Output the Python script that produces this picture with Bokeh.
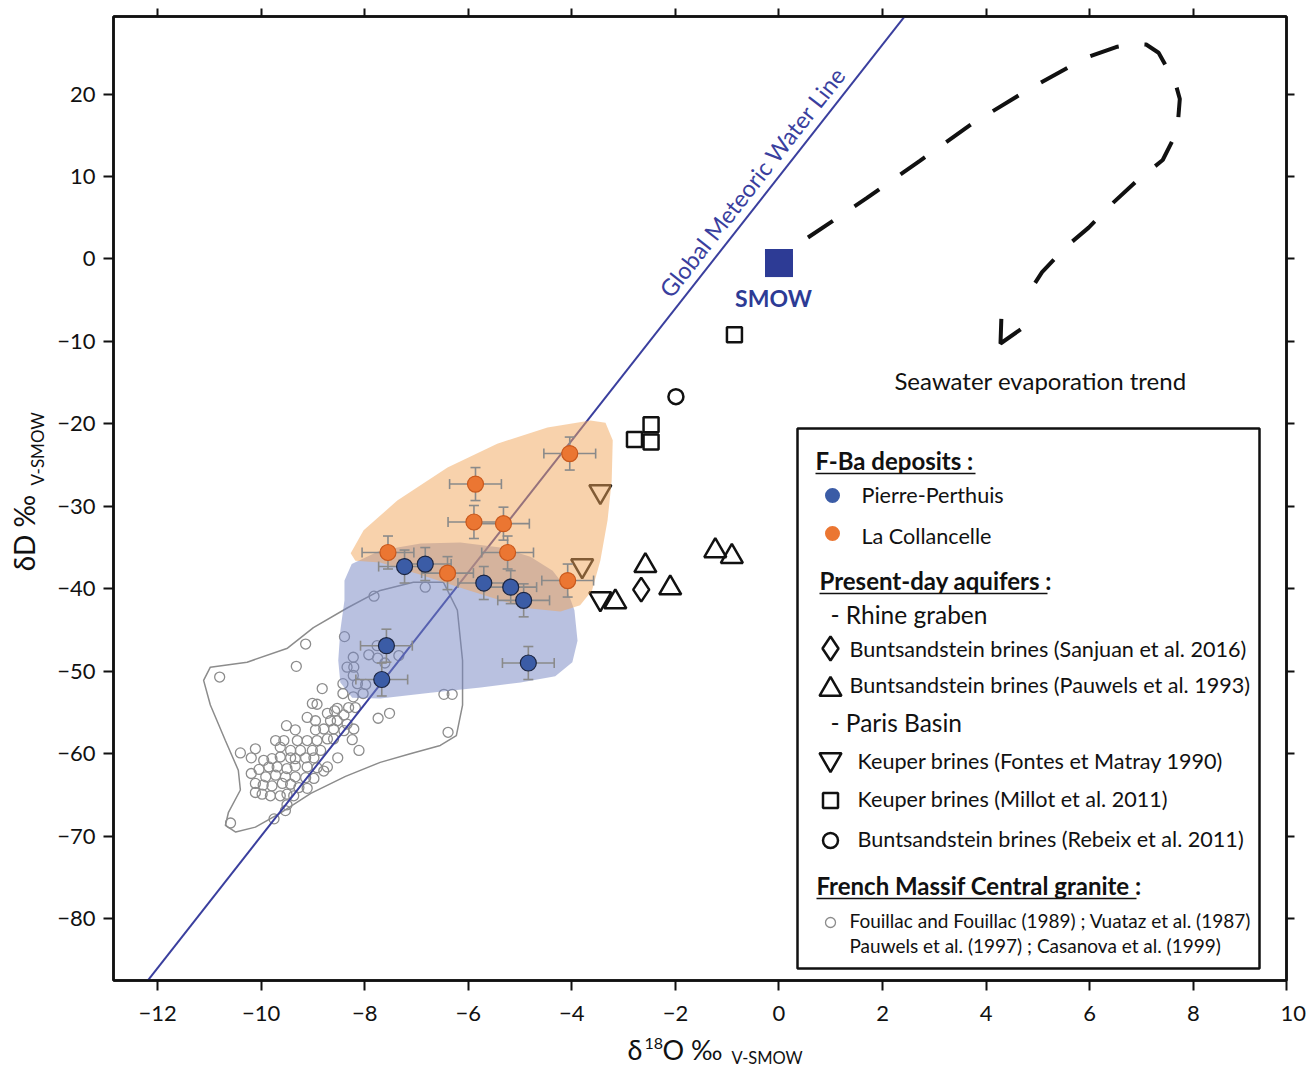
from bokeh.plotting import figure
from bokeh.models import Range1d, LinearAxis, FixedTicker, Label, Arrow, OpenHead
from bokeh.layouts import column, row
from bokeh.embed import file_html
from bokeh.resources import INLINE
import math

# ---------------- data ----------------
x_ticks = [-12, -10, -8, -6, -4, -2, 0, 2, 4, 6, 8]
x_tick_labels = ["\u221212", "\u221210", "\u22128", "\u22126", "\u22124", "\u22122", "0", "2", "4", "6", "8"]
x_end_label = "10"
y_ticks = [-80, -70, -60, -50, -40, -30, -20, -10, 0, 10, 20]
y_tick_labels = ["\u221280", "\u221270", "\u221260", "\u221250", "\u221240", "\u221230", "\u221220", "\u221210", "0", "10", "20"]

# F-Ba deposits
pp_d18o = [-7.23, -6.83, -5.70, -5.18, -4.93, -4.84, -7.58, -7.67]
pp_dD = [-37.3, -37.0, -39.3, -39.8, -41.4, -49.0, -46.9, -51.0]
pp_err_d18o = [0.5, 0.5, 0.5, 0.5, 0.5, 0.5, 0.5, 0.5]
pp_err_dD = [2.0, 2.0, 2.0, 2.0, 2.0, 2.0, 2.0, 2.0]

lc_d18o = [-4.04, -5.86, -5.89, -5.32, -5.24, -7.55, -6.40, -4.08]
lc_dD = [-23.6, -27.3, -31.9, -32.1, -35.6, -35.6, -38.1, -39.0]
lc_err_d18o = [0.5, 0.5, 0.5, 0.5, 0.5, 0.5, 0.5, 0.5]
lc_err_dD = [2.0, 2.0, 2.0, 2.0, 2.0, 2.0, 2.0, 2.0]

# fields (envelopes) of the two deposits
pp_field_d18o = [-8.39, -8.25, -7.70, -6.92, -6.15, -5.38, -4.80, -4.37, -4.10, -3.95, -3.89, -3.99,
                 -4.32, -4.99, -5.76, -6.73, -7.70, -8.24, -8.47, -8.51, -8.47, -8.39]
pp_field_dD = [-39.0, -37.0, -35.35, -34.5, -34.4, -35.0, -36.1, -37.8, -40.0, -42.6, -46.3, -48.9,
               -50.6, -51.35, -51.96, -52.6, -53.3, -53.2, -51.35, -48.7, -45.05, -41.4]
lc_field_d18o = [-8.27, -8.02, -7.37, -6.40, -5.44, -4.47, -3.64, -3.35, -3.21, -3.23, -3.31, -3.45,
                 -3.61, -3.84, -4.22, -4.80, -5.38, -6.09, -6.92, -7.70, -8.18]
lc_field_dD = [-35.7, -32.9, -29.3, -25.3, -22.4, -20.45, -19.6, -19.85, -22.0, -26.9, -31.7, -36.6,
               -40.2, -42.0, -42.75, -42.4, -41.4, -40.0, -38.3, -36.8, -36.6]

# present-day aquifers
sanjuan_d18o = [-2.66]
sanjuan_dD = [-40.1]
pauwels93_d18o = [-3.16, -2.58, -2.10, -1.23, -0.91]
pauwels93_dD = [-41.6, -37.2, -39.9, -35.4, -36.1]
fontes_d18o = [-3.45, -3.80, -3.45]
fontes_dD = [-28.2, -37.2, -41.2]
millot_d18o = [-0.86, -2.79, -2.47, -2.47]
millot_dD = [-9.2, -21.9, -20.1, -22.2]
rebeix_d18o = [-1.99]
rebeix_dD = [-16.7]

smow_d18o = [0.0]
smow_dD = [-0.5]

# French Massif Central granite waters
granite_d18o = [-10.80, -9.32, -9.14, -7.82, -6.83, -8.39, -7.76, -7.92, -8.22, -8.34, -8.21, -7.75,
                -7.61, -7.34, -8.22, -8.42, -8.14, -7.98, -8.82, -8.42, -8.22, -8.03, -6.47, -6.31,
                -9.01, -8.92, -8.31, -8.18, -7.52, -7.74, -6.39, -8.72, -8.58, -9.11, -8.95, -8.66,
                -8.53, -8.40, -8.34, -8.21, -9.51, -9.34, -8.95, -8.79, -8.60, -8.40, -9.30, -9.11,
                -8.92, -8.72, -8.60, -8.24, -9.72, -9.56, -10.11, -10.40, -10.19, -8.11, -8.52, -9.63,
                -9.43, -9.24, -9.01, -8.85, -9.95, -9.79, -9.63, -9.43, -9.34, -9.14, -8.98, -10.04,
                -9.85, -9.69, -9.50, -9.34, -9.11, -8.92, -8.72, -8.79, -10.19, -9.91, -9.72, -9.53,
                -9.34, -9.14, -8.98, -10.11, -9.96, -9.79, -9.59, -9.43, -9.27, -9.11, -10.11, -9.98,
                -9.82, -9.63, -9.50, -9.37, -9.50, -9.53, -9.75, -10.59, -8.53]
granite_dD = [-50.7, -49.4, -46.7, -40.9, -39.8, -45.8, -46.9, -48.0, -48.3, -49.5, -49.5, -48.4,
              -49.0, -48.1, -50.5, -51.5, -51.5, -51.6, -52.1, -52.7, -53.1, -52.7, -52.8, -52.8,
              -53.9, -54.0, -54.4, -54.4, -55.1, -55.7, -57.4, -55.1, -54.8, -55.6, -56.0, -56.0,
              -56.0, -55.3, -56.4, -57.0, -56.6, -57.1, -57.1, -57.0, -57.0, -57.2, -58.4, -58.4,
              -58.4, -58.2, -58.2, -58.3, -58.4, -58.4, -59.4, -59.9, -60.5, -59.6, -60.5, -59.2,
              -59.6, -59.6, -59.6, -59.6, -60.8, -60.6, -60.4, -60.5, -60.6, -60.5, -60.5, -61.9,
              -61.6, -61.6, -61.8, -61.5, -61.6, -61.7, -61.6, -62.1, -62.4, -62.8, -62.6, -62.8,
              -62.8, -62.9, -63.0, -63.6, -63.8, -63.9, -63.6, -63.7, -64.1, -64.2, -64.7, -64.9,
              -65.1, -65.1, -64.9, -65.1, -66.2, -66.9, -67.9, -68.4, -54.5]
granite_env_d18o = [-6.48, -6.21, -6.11, -6.11, -6.23, -6.54, -7.12, -7.70, -8.37, -9.04, -9.63, -10.11,
                    -10.49, -10.69, -10.63, -10.40, -10.44, -10.69, -10.98, -11.11, -10.98, -10.27,
                    -9.49, -8.99, -8.33, -7.70, -7.06, -6.48]
granite_env_dD = [-39.2, -42.6, -48.7, -54.1, -57.8, -59.0, -60.0, -61.05, -62.75, -64.8, -67.2, -68.9,
                  -69.5, -68.7, -67.1, -64.4, -62.0, -58.4, -54.1, -51.1, -49.5, -48.9,
                  -47.2, -44.7, -42.3, -40.2, -39.2, -39.2]

# Global Meteoric Water Line end points (dD = 8 d18O + 10)
gmwl_d18o = [-13.0, 3.0]
gmwl_dD = [-94.0, 34.0]

# seawater evaporation trend path
trend_d18o = [0.56, 1.70, 2.72, 3.73, 4.83, 5.93, 6.51, 6.85, 7.09, 7.33, 7.50, 7.66, 7.74, 7.69, 7.41,
              6.88, 6.45, 5.98, 5.53, 5.08, 4.76]
trend_dD = [2.6, 7.4, 11.9, 16.4, 20.6, 24.4, 25.7, 26.1, 26.0, 25.0, 23.1, 21.2, 19.4, 15.5, 12.0,
            9.3, 6.8, 3.8, 1.4, -1.6, -4.7]

# ---------------- layout ----------------
X0, X1 = -12.85, 9.80
Y0, Y1 = -87.5, 29.4
LW = 48                      # left strip (y-axis title)
FW, FH = 1173, 964
BL, BT, BR, BB = 113 - LW, 16, 20, 52
W = BL + FW + BR
H = BT + FH + BB
TOTAL_W = LW + W
BOT_H = 1069 - H
FL_PAGE, FT_PAGE = LW + BL, BT
FONT = "Lato"
INK = "#111111"


def X(px):
    return X0 + (px - FL_PAGE) * (X1 - X0) / FW


def Y(py):
    return Y1 - (py - FT_PAGE) * (Y1 - Y0) / FH


p = figure(width=W, height=H, x_range=Range1d(X0, X1), y_range=Range1d(Y0, Y1),
           output_backend="svg", toolbar_location=None,
           x_axis_type=None, y_axis_type=None,
           min_border_left=BL, min_border_right=BR, min_border_top=BT, min_border_bottom=BB)
p.grid.visible = False
p.background_fill_color = "white"
p.border_fill_color = "white"
p.outline_line_color = INK
p.outline_line_width = 2.5


def make_axis(ticks, labels, show, standoff):
    return LinearAxis(
        ticker=FixedTicker(ticks=ticks),
        major_label_overrides={t: (l if show else "") for t, l in zip(ticks, labels)},
        axis_line_width=2.5, axis_line_color=INK,
        major_tick_line_width=2, major_tick_line_color=INK,
        major_tick_in=0, major_tick_out=10 if show else 8,
        minor_tick_line_color=None,
        major_label_text_font=FONT,
        major_label_text_font_size="22px" if show else "0px",
        major_label_text_color=INK,
        major_label_standoff=standoff if show else 0)


# the last bottom label ("10") sits at the right end of the frame
p.add_layout(make_axis(x_ticks + [X1], x_tick_labels + ["\u2002\u2009" + x_end_label], True, 8), "below")
p.add_layout(make_axis(y_ticks, y_tick_labels, True, 8), "left")
p.add_layout(make_axis(x_ticks, x_tick_labels, False, 0), "above")
p.add_layout(make_axis(y_ticks, y_tick_labels, False, 0), "right")

# granite data
p.scatter(granite_d18o, granite_dD, marker="circle", size=10, fill_alpha=0,
          line_color="#8c8c8c", line_width=1.3)
p.line(granite_env_d18o, granite_env_dD, line_color="#8c8c8c", line_width=1.5)

# aquifers
open_style = dict(fill_alpha=0, line_color=INK, line_width=2.5)
p.scatter(sanjuan_d18o, sanjuan_dD, marker="diamond", size=24, **open_style)
p.scatter(pauwels93_d18o, pauwels93_dD, marker="triangle", size=22, **open_style)
p.scatter(fontes_d18o, fontes_dD, marker="inverted_triangle", size=22, **open_style)
p.scatter(millot_d18o, millot_dD, marker="square", size=15, **open_style)
p.scatter(rebeix_d18o, rebeix_dD, marker="circle", size=15, **open_style)

# GMWL
p.line(gmwl_d18o, gmwl_dD, line_color="#3a3f9e", line_width=2)

# fields
p.patch(pp_field_d18o, pp_field_dD, fill_color="#7383c2", fill_alpha=0.5, line_color=None)
p.patch(lc_field_d18o, lc_field_dD, fill_color="#f2a55a", fill_alpha=0.5, line_color=None)

# error bars
ERR = "#8a8a8a"
for xs, ys, ex, ey in [(lc_d18o, lc_dD, lc_err_d18o, lc_err_dD), (pp_d18o, pp_dD, pp_err_d18o, pp_err_dD)]:
    p.segment([x - e for x, e in zip(xs, ex)], ys, [x + e for x, e in zip(xs, ex)], ys,
              line_color=ERR, line_width=1.6)
    p.segment(xs, [y - e for y, e in zip(ys, ey)], xs, [y + e for y, e in zip(ys, ey)],
              line_color=ERR, line_width=1.6)
    p.scatter([x - e for x, e in zip(xs, ex)] + [x + e for x, e in zip(xs, ex)], list(ys) + list(ys),
              marker="dash", angle=math.pi / 2, size=10, line_color=ERR, line_width=1.6)
    p.scatter(list(xs) + list(xs), [y - e for y, e in zip(ys, ey)] + [y + e for y, e in zip(ys, ey)],
              marker="dash", size=10, line_color=ERR, line_width=1.6)

p.scatter(lc_d18o, lc_dD, marker="circle", size=16, fill_color="#eb7632", line_color="#c9581c", line_width=1.2)
p.scatter(pp_d18o, pp_dD, marker="circle", size=16, fill_color="#3b5ca6", line_color="#1c2540", line_width=1.2)

# SMOW
p.scatter(smow_d18o, smow_dD, marker="square", size=28, fill_color="#2d3b95", line_color=None)

# evaporation trend
p.line(trend_d18o, trend_dD, line_color=INK, line_width=4, line_dash="30 26")
p.add_layout(Arrow(end=OpenHead(size=22, line_width=4, line_color=INK),
                   x_start=X(1025), y_start=Y(297), x_end=X(1000), y_end=Y(343),
                   line_alpha=0))


def txt(fig, fx, fy, s, size=20, color=INK, bold=False, align="left", baseline="middle", angle=0):
    fig.add_layout(Label(x=fx, y=fy, text=s, text_font=FONT, text_font_size=f"{size}px",
                         text_color=color, text_font_style="bold" if bold else "normal",
                         text_align=align, text_baseline=baseline, angle=angle, angle_units="deg"))


def mtxt(px, py, s, **kw):
    txt(p, X(px), Y(py), s, **kw)


mtxt(675, 302, "Global Meteoric Water Line", size=23.5, color="#3a3f9e", baseline="bottom", angle=51.9)
mtxt(773, 297, "SMOW", size=23, color="#2d3b95", bold=True, align="center")
mtxt(1040, 380, "Seawater evaporation trend", size=24, align="center")

# legend box
p.quad(left=[X(797)], right=[X(1259)], top=[Y(428)], bottom=[Y(968)],
       fill_color="white", line_color=INK, line_width=2.5)

for (lx, ly, s, w) in [(815, 460, "F-Ba deposits :", 160), (819, 580, "Present-day aquifers :", 228),
                       (816, 885, "French Massif Central granite :", 320)]:
    mtxt(lx, ly, s, size=24, bold=True)
    p.segment([X(lx)], [Y(ly + 13)], [X(lx + w)], [Y(ly + 13)], line_color=INK, line_width=1.5)

p.scatter([X(832)], [Y(495)], marker="circle", size=15, fill_color="#3b5ca6", line_color=None)
p.scatter([X(832)], [Y(533)], marker="circle", size=15, fill_color="#eb7632", line_color=None)
p.scatter([X(830)], [Y(648)], marker="diamond", size=24, **open_style)
p.scatter([X(830)], [Y(689)], marker="triangle", size=22, **open_style)
p.scatter([X(830)], [Y(759)], marker="inverted_triangle", size=22, **open_style)
p.scatter([X(830)], [Y(800)], marker="square", size=15, **open_style)
p.scatter([X(830)], [Y(840)], marker="circle", size=15, **open_style)
p.scatter([X(830)], [Y(922)], marker="circle", size=10, fill_alpha=0, line_color="#8c8c8c", line_width=1.3)

LS = 21.6
mtxt(861, 494, "Pierre-Perthuis", size=LS)
mtxt(861, 535, "La Collancelle", size=LS)
mtxt(830, 614, "- Rhine graben", size=24.5)
mtxt(849, 648, "Buntsandstein brines (Sanjuan et al. 2016)", size=LS)
mtxt(849, 684, "Buntsandstein brines (Pauwels et al. 1993)", size=LS)
mtxt(830, 722, "- Paris Basin", size=24.5)
mtxt(857, 760, "Keuper brines (Fontes et Matray 1990)", size=LS)
mtxt(857, 798, "Keuper brines (Millot et al. 2011)", size=LS)
mtxt(857, 838, "Buntsandstein brines (Rebeix et al. 2011)", size=LS)
mtxt(849, 920, "Fouillac and Fouillac (1989) ; Vuataz et al. (1987)", size=19)
mtxt(849, 945, "Pauwels et al. (1997) ; Casanova et al. (1999)", size=19)


# ---------------- axis titles (text strips beside the plot) ----------------
def strip(width, height, top):
    f = figure(width=width, height=height, x_range=Range1d(0, width), y_range=Range1d(top + height, top),
               output_backend="svg", toolbar_location=None, x_axis_type=None, y_axis_type=None,
               min_border=0, min_border_left=0, min_border_right=0, min_border_top=0, min_border_bottom=0)
    f.grid.visible = False
    f.outline_line_color = None
    f.background_fill_color = "white"
    f.border_fill_color = "white"
    return f


left_strip = strip(LW, H, 0)
txt(left_strip, 23, 594, "\u03b4D \u2030", size=28, baseline="middle", angle=90)
txt(left_strip, 37, 502, "V-SMOW", size=17, baseline="middle", angle=90)

bottom_strip = strip(TOTAL_W, BOT_H, H)
txt(bottom_strip, 627, 1049, "\u03b4", size=27, baseline="middle")
txt(bottom_strip, 644, 1043, "18", size=16, baseline="middle")
txt(bottom_strip, 662, 1049, "O \u2030", size=27, baseline="middle")
txt(bottom_strip, 731, 1057, "V-SMOW", size=16.5, baseline="middle")

layout = column(row(left_strip, p, spacing=0), bottom_strip, spacing=0)
open("out.html", "w").write(file_html(layout, INLINE))
